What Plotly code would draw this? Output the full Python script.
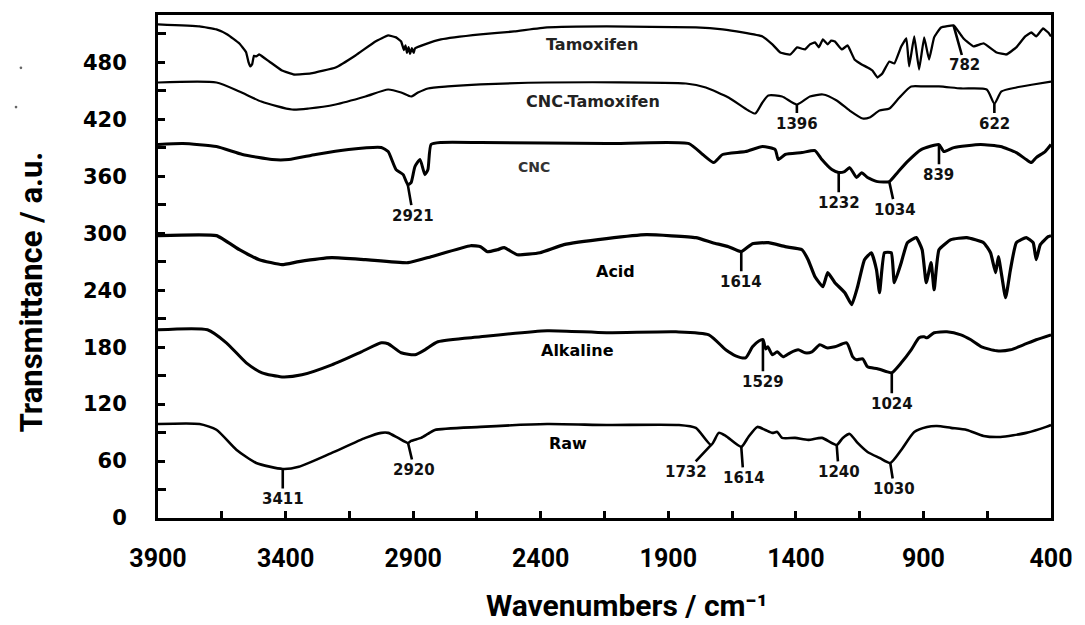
import plotly.graph_objects as go

# FTIR spectra, offset vertically (wavenumber in cm^-1, transmittance in a.u.)
raw_wn = [3900, 3737, 3671, 3593, 3515, 3411, 3348, 3219, 3087, 3025, 2998, 2959, 2920, 2908,
          2869, 2842, 2815, 2636, 2375, 2142, 1858, 1792, 1732, 1702, 1675, 1614, 1586, 1551,
          1520, 1492, 1473, 1454, 1403, 1352, 1298, 1240, 1216, 1189, 1158, 1119, 1072, 1030,
          987, 936, 886, 847, 792, 730, 664, 598, 497, 419, 400]
raw_t = [99, 99, 93, 72, 58, 51.7, 54, 68.6, 84.4, 89.7, 89.7, 84.4, 79, 81.2,
         84.4, 88.6, 92.8, 96, 99, 98, 98, 95, 77, 89.7, 86.5, 75, 85.4, 96,
         92.8, 89.7, 90.7, 84.4, 84.4, 82.3, 84.4, 77, 84.4, 88.6, 79.1, 69.6, 63.3, 58,
         71.7, 90.7, 96, 97, 95, 92.8, 86.5, 85.4, 89.7, 96, 98]

alk_wn = [3900, 3706, 3632, 3554, 3492, 3414, 3336, 3219, 3103, 3025, 2998, 2947, 2893, 2854,
          2803, 2636, 2375, 2142, 1870, 1741, 1675, 1636, 1597, 1570, 1545, 1529, 1518, 1510,
          1492, 1473, 1450, 1422, 1391, 1364, 1337, 1306, 1279, 1247, 1201, 1177, 1162, 1138,
          1119, 1080, 1041, 1024, 987, 948, 917, 897, 886, 858, 808, 753, 714, 672, 613, 559,
          508, 458, 400]
alk_t = [198.3, 198.3, 184.6, 163.5, 153, 148.7, 150.9, 161.4, 175.1, 184.6, 183.6, 174.1, 172, 177.2,
         185.7, 190.9, 197.3, 195.2, 196.2, 193, 177.2, 170.9, 168.8, 180.4, 186.5, 188, 178, 180.4,
         172, 175.1, 169.8, 174.1, 177.2, 174.1, 175.1, 182.5, 179.3, 180.4, 184.6, 169.8, 166.7, 167.7,
         159.3, 157.2, 154, 153, 163.5, 177.2, 189.9, 190.9, 189.9, 195.2, 196.2, 193, 187.8, 180.4, 176.2, 177.2,
         182.5, 187.8, 193]

acid_wn = [3900, 3671, 3581, 3503, 3414, 3348, 3219, 3087, 2920, 2830, 2675, 2636, 2609, 2570,
           2543, 2492, 2403, 2309, 2142, 1986, 1792, 1726, 1664, 1614, 1570, 1508, 1442, 1376,
           1352, 1325, 1294, 1275, 1247, 1208, 1181, 1158, 1131, 1104, 1084, 1072, 1053, 1026,
           1014, 987, 963, 928, 905, 889, 870, 858, 839, 792, 730, 664, 637, 617, 606, 578,
           559, 536, 497, 470, 458, 442, 411, 400]
acid_t = [297.5, 297.5, 282.7, 272.2, 266.9, 270.1, 274.3, 272.2, 269, 275.3, 286.9, 285.9, 280.6, 282.7,
          284.8, 277.4, 279.5, 288, 294.3, 298.5, 295.4, 290.1, 285.9, 280.6, 289, 290.1, 285.9, 282.7,
          272.2, 254.2, 243.7, 258.5, 247.9, 237.4, 224.7, 243.7, 272.2, 279.5, 261.6, 237.4, 279.5, 279.5,
          247.9, 269, 290.1, 295.4, 282.7, 247.9, 269, 240.5, 282.7, 293.3, 295.4, 290.1, 279.5, 258.5, 275.3, 232.1,
          261.6, 290.1, 295.4, 290.1, 272.2, 288, 296.4, 297.5]

cnc_wn = [3900, 3803, 3671, 3569, 3453, 3387, 3282, 3153, 3025, 2998, 2967, 2939, 2921, 2908,
          2893, 2873, 2854, 2842, 2830, 2791, 2636, 2142, 1819, 1765, 1722, 1687, 1597, 1531,
          1481, 1469, 1442, 1376, 1325, 1298, 1259, 1232, 1209, 1189, 1162, 1142, 1119, 1080,
          1034, 1002, 963, 909, 839, 820, 781, 676, 598, 536, 497, 477, 458, 423, 400]
cnc_t = [393.5, 394.5, 391.4, 383, 377.7, 377.7, 383, 388.2, 390.3, 386.1, 367.1, 361.8, 351.3, 353.4,
         370.3, 377.7, 361.8, 367.1, 393.5, 395.6, 395.6, 394.5, 394.5, 383, 374.5, 383, 386.1, 391.4,
         388.2, 377.7, 383, 385, 387.2, 377.7, 367.1, 364, 365, 369.2, 358.7, 363.9, 358.7, 354.4,
         354.4, 363.9, 375.5, 388.2, 393.5, 386.1, 390.3, 393.5, 391.4, 385, 377.7, 374.5, 379.8, 386.1, 393.5]

cnct_wn = [3900, 3671, 3581, 3495, 3375, 3309, 3204, 3087, 2998, 2947, 2908, 2881, 2842, 2764,
           2636, 2375, 1831, 1753, 1664, 1586, 1559, 1531, 1508, 1454, 1396, 1345, 1294, 1240,
           1189, 1138, 1111, 1072, 1033, 994, 948, 897, 839, 753, 652, 622, 594, 536, 470, 400]
cnct_t = [458.9, 458.9, 449.4, 438.8, 430.4, 431.5, 435.7, 444.1, 451.5, 448.3, 444.1, 448.3, 452.6, 454.7,
          456.8, 458.9, 457.8, 453.6, 443.1, 429.3, 426.2, 437.8, 445.2, 444.1, 435.7, 444.1, 446.2, 439.9,
          429.3, 420.9, 422, 429.3, 431.5, 443.1, 454.7, 454.7, 454.7, 452.6, 451.5, 436.7, 449.4, 453.6, 456.8, 459.9]

tam_wn = [3900, 3737, 3671, 3628, 3581, 3555, 3545, 3538, 3531, 3524, 3515, 3503, 3464, 3414,
          3367, 3301, 3204, 3126, 3048, 2998, 2967, 2947, 2936, 2930, 2924, 2918, 2912, 2905,
          2898, 2893, 2854, 2791, 2636, 2504, 2375, 2142, 1792, 1687, 1609, 1531, 1492, 1461,
          1422, 1395, 1364, 1345, 1325, 1310, 1294, 1275, 1262, 1247, 1220, 1197, 1170, 1142,
          1119, 1100, 1080, 1061, 1034, 1014, 987, 967, 956, 936, 917, 897, 878, 858, 831,
          782, 760, 742, 703, 664, 613, 575, 536, 501, 477, 458, 431, 411, 400]
tam_t = [520.1, 518, 514.8, 509.5, 500, 491, 480, 475.8, 478, 487, 486.3, 488.4, 481, 471.5,
         467.3, 468.4, 474.7, 487.4, 502.1, 508.5, 506.4, 502.1, 493, 498, 490, 496, 489, 495,
         490, 494.7, 499, 504.2, 509.5, 512.7, 516.9, 518, 516.9, 514.8, 511.6, 507.4, 499, 490.5,
         488.4, 495.8, 493.7, 499, 501.1, 496, 504.2, 499, 503, 502.1, 493.7, 497.9, 483.1, 477.9,
         474.7, 471.5, 464.1, 468.4, 481, 478.9, 496.9, 505.3, 475.8, 507.4, 472.6, 506.4, 483.1, 506.4, 516.9,
         519, 511.6, 505, 496.9, 500, 490.5, 488.4, 495.8, 507.4, 511.6, 507.4, 515.8, 511.6, 507.4]

# name, wavenumbers, transmittance, line width, spline smoothing
spectra = [
    ("Raw", raw_wn, raw_t, 2.6, 0.6),
    ("Alkaline", alk_wn, alk_t, 3.0, 0.6),
    ("Acid", acid_wn, acid_t, 3.2, 0.4),
    ("CNC", cnc_wn, cnc_t, 3.0, 0.5),
    ("CNC-Tamoxifen", cnct_wn, cnct_t, 2.2, 0.6),
    ("Tamoxifen", tam_wn, tam_t, 2.3, 0.3),
]

# curve names: (text, wavenumber, transmittance, size, colour)
curve_labels = [
    ("Tamoxifen", 2200, 499, 16, "#222"),
    ("CNC-Tamoxifen", 2196, 438.8, 16, "#222"),
    ("CNC", 2426, 370.3, 14, "#333"),
    ("Acid", 2107, 259.5, 16, "#000"),
    ("Alkaline", 2255, 176.2, 16, "#000"),
    ("Raw", 2294, 78.1, 16, "#000"),
]

# peak assignments: (label, peak wn, curve value, label wn, label value)
peaks = [
    ("3411", 3411, 51.7, 3411, 20.0),
    ("2920", 2920, 79.0, 2895, 50.6),
    ("1732", 1732, 77.0, 1831, 48.5),
    ("1614", 1614, 75.0, 1605, 42.2),
    ("1240", 1240, 77.0, 1232, 48.5),
    ("1030", 1030, 58.0, 1014, 30.6),
    ("1529", 1529, 188.0, 1529, 143.5),
    ("1024", 1024, 153.0, 1024, 120.3),
    ("1614", 1614, 280.6, 1614, 249.0),
    ("2921", 2921, 351.3, 2900, 318.6),
    ("1232", 1232, 364.0, 1232, 332.3),
    ("1034", 1034, 354.4, 1010, 324.9),
    ("839", 839, 393.5, 839, 361.8),
    ("1396", 1396, 435.7, 1396, 415.6),
    ("622", 622, 436.7, 622, 415.6),
    ("782", 782, 519.0, 738, 476.8),
]

x_ticks = [3900, 3400, 2900, 2400, 1900, 1400, 900, 400]
y_ticks = [0, 60, 120, 180, 240, 300, 360, 420, 480]

fig = go.Figure()
for name, wn, t, w, sm in spectra:
    fig.add_trace(go.Scatter(x=wn, y=t, mode="lines", name=name,
                             line=dict(color="#000", width=w, shape="spline", smoothing=sm),
                             showlegend=False))

for text, xv, yv, size, col in curve_labels:
    fig.add_annotation(x=xv, y=yv, text=text, showarrow=False,
                       font=dict(family="DejaVu Sans", size=size, color=col, weight="bold"))

for text, px, py, tx, ty in peaks:
    fig.add_annotation(x=px, y=py, ax=tx, ay=ty, axref="x", ayref="y", text=text,
                       showarrow=True, arrowhead=0, arrowwidth=2.6, arrowcolor="#000",
                       standoff=0, startstandoff=0,
                       font=dict(family="DejaVu Sans", size=15, color="#111", weight="bold"))

# axis titles
fig.add_annotation(xref="paper", yref="paper", x=-0.142, y=0.449, xanchor="center", yanchor="middle",
                   text="Transmittance / a.u.", textangle=-90, showarrow=False,
                   font=dict(family="Roboto", size=31, color="#000", weight="bold"))
fig.add_annotation(xref="paper", yref="paper", x=0.525, y=-0.173, xanchor="center", yanchor="middle",
                   text="Wavenumbers / cm\u207b\u00b9", showarrow=False,
                   font=dict(family="Roboto", size=30, color="#000", weight="bold"))

# two stray specks left of the axis
for sx, sy in [(-0.1535, 0.895), (-0.159, 0.817)]:
    fig.add_shape(type="circle", xref="paper", yref="paper",
                  x0=sx - 0.0015, x1=sx + 0.0015, y0=sy - 0.0027, y1=sy + 0.0027,
                  fillcolor="#666", line=dict(width=0))

axis_common = dict(showline=True, linecolor="#000", linewidth=3, mirror=True,
                   showgrid=False, zeroline=False, ticks="inside", tickcolor="#000",
                   tickwidth=2.5, ticklen=7)

fig.update_xaxes(range=[3900, 400], autorange=False, tickvals=x_ticks,
                 ticktext=[str(v) for v in x_ticks],
                 minor=dict(ticks="inside", ticklen=7, tickwidth=2.5, tickcolor="#000",
                            tickvals=list(range(3650, 400, -500))),
                 ticklabelstandoff=16,
                 tickfont=dict(family="Roboto", size=25, color="#000", weight="bold"),
                 **axis_common)
fig.update_yaxes(range=[0, 530], autorange=False, tickvals=y_ticks,
                 minor=dict(ticks="inside", ticklen=8, tickwidth=2.5, tickcolor="#000",
                            tickvals=list(range(30, 530, 60))),
                 ticklabelstandoff=24,
                 tickfont=dict(family="DejaVu Sans", size=21, color="#000", weight="bold"),
                 **axis_common)

fig.update_layout(width=1085, height=625, margin=dict(l=158, r=28, t=15, b=107),
                  paper_bgcolor="white", plot_bgcolor="white")

fig.write_html("out.html")
